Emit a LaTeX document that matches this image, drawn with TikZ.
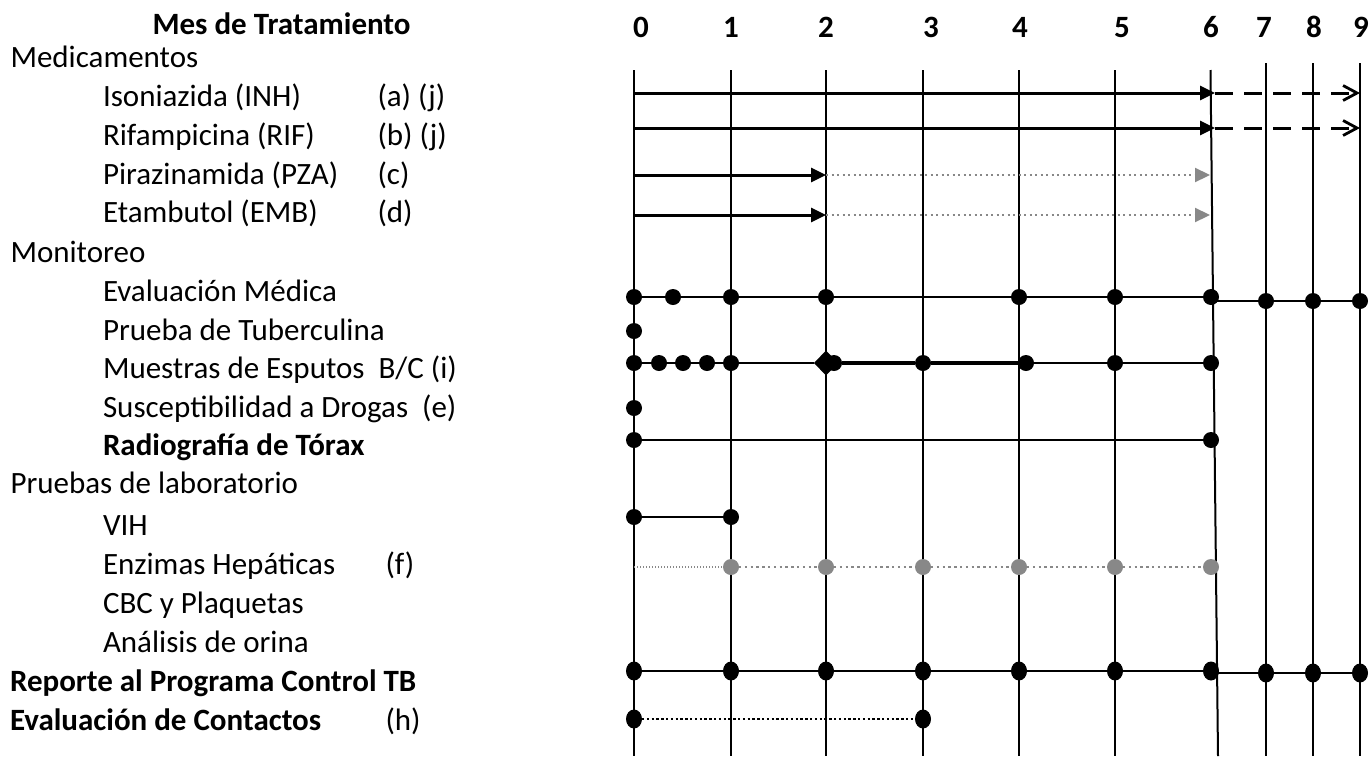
\documentclass[tikz,border=0pt]{standalone}
\usepackage{fontspec}
\setmainfont{Carlito}
\usetikzlibrary{arrows.meta,shapes.geometric}
\definecolor{midgray}{RGB}{136,136,136}

\begin{document}
\begin{tikzpicture}[x=1pt,y=-1pt,
  every node/.style={inner sep=0pt, outer sep=0pt},
  lbl/.style={anchor=base west, font=\fontsize{31}{37}\selectfont},
  blbl/.style={lbl, font=\fontsize{31}{37}\selectfont\bfseries},
  hdr/.style={anchor=base, font=\fontsize{31}{37}\selectfont\bfseries},
  gridline/.style={line width=2pt, black},
  dot/.style={circle, fill=black, minimum size=16pt},
  gdot/.style={circle, fill=midgray, minimum size=16pt},
  edot/.style={ellipse, fill=black, minimum width=16pt, minimum height=19pt},
  sdiam/.style={diamond, fill=black, minimum width=24pt, minimum height=25pt},
  link/.style={line width=2.6pt},
  thicklink/.style={line width=4.4pt},
  dose/.style={line width=3pt, -{Triangle[length=15pt,width=14pt]}},
  cont/.style={line width=3pt, dash pattern=on 18pt off 11pt,
    -{Straight Barb[length=14pt,width=15pt,line width=2.8pt]}},
  gcont/.style={midgray, line width=2.2pt, dash pattern=on 2.2pt off 3.3pt,
    -{Triangle[length=15pt,width=14pt,fill=midgray]}},
  gdots/.style={midgray, line width=2.4pt, dash pattern=on 2.4pt off 3.4pt},
  fine/.style={midgray, line width=1.4pt, dash pattern=on 1.4pt off 1.6pt},
  bdots/.style={line width=2.6pt, dash pattern=on 2.4pt off 2.4pt},
]
\path[use as bounding box] (0,0) rectangle (1369,756);

% ---- column headings ----
\node[hdr, anchor=base west] (title) at (152.5,34) {Mes de Tratamiento};
\foreach \i/\x in {0/641,1/731,2/826,3/931,4/1020,5/1122,6/1211,7/1264,8/1314,9/1361}
  \node[hdr] (mon\i) at (\x,37) {\i};

% ---- month grid ----
\foreach \i/\x in {0/634,1/731,2/826,3/923,4/1019,5/1115} {
  \coordinate (top\i) at (\x,70);
  \coordinate (bot\i) at (\x,756);
  \draw[gridline] (top\i) -- (bot\i);
}
\coordinate (top6) at (1210.5,70);
\coordinate (bot6) at (1218,756);
\draw[gridline] (top6) -- (bot6);
\foreach \i/\x in {7/1266,8/1313,9/1360} {
  \coordinate (top\i) at (\x,63);
  \coordinate (bot\i) at (\x,756);
  \draw[gridline] (top\i) -- (bot\i);
}

% ---- row labels ----
\node[lbl] (med) at (10.5,67) {Medicamentos};
\node[lbl] (inh) at (103,106) {Isoniazida (INH)};
\node[lbl] (inhn) at (377.5,106) {(a) (j)};
\node[lbl] (rif) at (103,145) {Rifampicina (RIF)};
\node[lbl] (rifn) at (377.5,145) {(b) (j)};
\node[lbl] (pza) at (103,184) {Pirazinamida (PZA)};
\node[lbl] (pzan) at (377.5,184) {(c)};
\node[lbl] (emb) at (103,222) {Etambutol (EMB)};
\node[lbl] (embn) at (377.5,222) {(d)};
\node[lbl] (mon) at (10.5,262) {Monitoreo};
\node[lbl] (evm) at (103,301) {Evaluación Médica};
\node[lbl] (tub) at (103,340) {Prueba de Tuberculina};
\node[lbl] (esp) at (103,378) {Muestras de Esputos~ B/C (i)};
\node[lbl] (sus) at (103,417) {Susceptibilidad a Drogas~ (e)};
\node[blbl] (rad) at (103,455) {Radiografía de Tórax};
\node[lbl] (lab) at (10.5,493) {Pruebas de laboratorio};
\node[lbl] (vih) at (103,535) {VIH};
\node[lbl] (enz) at (103,574) {Enzimas Hepáticas};
\node[lbl] (enzn) at (385.5,574) {(f)};
\node[lbl] (cbc) at (103,613) {CBC y Plaquetas};
\node[lbl] (ori) at (103,652) {Análisis de orina};
\node[blbl] (rep) at (10,691) {Reporte al Programa Control TB};
\node[blbl] (con) at (10,730) {Evaluación de Contactos};
\node[lbl] (conn) at (385.5,730) {(h)};

% ---- medication bars ----
\coordinate (inhA) at (634,93);  \coordinate (inhB) at (1215,93);  \coordinate (inhC) at (1360,93);
\coordinate (rifA) at (634,128); \coordinate (rifB) at (1215,128); \coordinate (rifC) at (1360,128);
\draw[dose] (inhA) -- (inhB);
\draw[cont] (inhB) -- (inhC);
\draw[dose] (rifA) -- (rifB);
\draw[cont] (rifB) -- (rifC);

\coordinate (pzaA) at (634,175); \coordinate (pzaB) at (826,175); \coordinate (pzaC) at (1210,175);
\coordinate (embA) at (634,215); \coordinate (embB) at (826,215); \coordinate (embC) at (1210,215);
\draw[dose] (pzaA) -- (pzaB);
\draw[gcont] (pzaB) -- (pzaC);
\draw[dose] (embA) -- (embB);
\draw[gcont] (embB) -- (embC);

% ---- medical evaluation ----
\foreach \i/\x in {0/634,1/673,2/731,3/826,4/1019,5/1115,6/1211}
  \node[dot] (em\i) at (\x,297) {};
\foreach \i/\x in {7/1266,8/1313,9/1360}
  \node[dot] (em\i) at (\x,301) {};
\coordinate (em6r) at (1211,301);
\draw[link] (em0) -- (em1) -- (em2) -- (em3) -- (em4) -- (em5) -- (em6);
\draw[link] (em6r) -- (em7) -- (em8) -- (em9);

% ---- tuberculin test ----
\node[dot] (tb0) at (634,331) {};

% ---- sputum samples ----
\foreach \i/\x in {0/634,1/659,2/683,3/707,4/731}
  \node[dot] (sp\i) at (\x,363) {};
\node[sdiam] (spd) at (826,363) {};
\node[dot] (spc) at (834,363) {};
\node[dot] (sp6) at (923,363) {};
\node[dot] (sp7) at (1026,363) {};
\node[dot] (sp8) at (1115,363) {};
\node[dot] (sp9) at (1211,363) {};
\draw[link] (sp0) -- (sp1) -- (sp2) -- (sp3) -- (sp4) -- (spd);
\draw[thicklink] (spc) -- (sp6) -- (sp7);
\draw[link] (sp7) -- (sp8) -- (sp9);

% ---- drug susceptibility ----
\node[dot] (ds0) at (634,408) {};

% ---- chest x-ray ----
\node[dot] (rx0) at (634,440) {};
\node[dot] (rx6) at (1211,440) {};
\draw[link] (rx0) -- (rx6);

% ---- HIV ----
\node[dot] (hv0) at (634,517) {};
\node[dot] (hv1) at (731,517) {};
\draw[link] (hv0) -- (hv1);

% ---- liver enzymes ----
\coordinate (ez0) at (634,567);
\foreach \i/\x in {1/731,2/826,3/923,4/1019,5/1115,6/1211}
  \node[gdot] (ez\i) at (\x,567) {};
\draw[fine] (ez0) -- (ez1);
\draw[gdots] (ez1) -- (ez2) -- (ez3) -- (ez4) -- (ez5) -- (ez6);

% ---- report to TB programme ----
\foreach \i/\x in {0/634,1/731,2/826,3/923,4/1019,5/1115,6/1211}
  \node[edot] (rp\i) at (\x,671) {};
\foreach \i/\x in {7/1266,8/1313,9/1360}
  \node[edot] (rp\i) at (\x,673) {};
\coordinate (rp6r) at (1211,673);
\draw[link] (rp0) -- (rp1) -- (rp2) -- (rp3) -- (rp4) -- (rp5) -- (rp6);
\draw[link] (rp6r) -- (rp7) -- (rp8) -- (rp9);

% ---- contact evaluation ----
\node[edot] (ct0) at (634,719) {};
\node[edot] (ct3) at (923,719) {};
\draw[bdots] (ct0) -- (ct3);
\end{tikzpicture}
\end{document}
